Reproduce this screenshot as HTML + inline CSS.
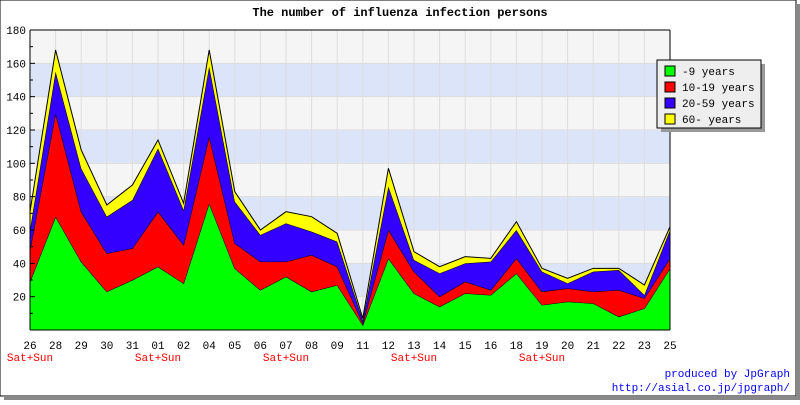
<!DOCTYPE html>
<html><head><meta charset="utf-8"><style>
body{margin:0;background:#fff;}
svg text{font-family:"Liberation Mono","DejaVu Sans Mono",monospace;}
</style></head><body>
<svg width="800" height="400" xmlns="http://www.w3.org/2000/svg">
<rect x="0" y="0" width="796" height="396" fill="#fff" stroke="#000" stroke-width="1"/>
<rect x="796" y="4" width="4" height="396" fill="#888"/>
<rect x="4" y="396" width="796" height="4" fill="#888"/>
<text x="400" y="16" text-anchor="middle" font-size="12" font-weight="bold">The number of influenza infection persons</text>
<g id="plot"></g>
<g id="legend">
<rect x="661" y="64" width="104" height="68" fill="#999"/>
<rect x="657" y="60" width="104" height="68" fill="#eee" stroke="#000"/>
</g>
<text x="790" y="377" text-anchor="end" font-size="11" fill="#00f">produced by JpGraph</text>
<text x="790" y="391" text-anchor="end" font-size="11" fill="#00f">http://asial.co.jp/jpgraph/</text>
</svg>
<script>
const categories=["26","28","29","30","31","01","02","04","05","06","07","08","09","11","12","13","14","15","16","18","19","20","21","22","23","25"];
const weekend=["26","01","07","13","19"];
const age0_9=[29,68,41,23,30,38,28,76,37,24,32,23,27,3,43,22,14,22,21,34,15,17,16,8,13,37];
const age10_19=[19,62,30,23,19,33,23,40,15,17,9,22,11,1,17,13,6,7,3,9,8,8,7,16,6,6];
const age20_59=[12,25,26,22,29,38,21,42,25,16,23,14,15,2,26,7,14,11,17,17,12,3,12,12,2,17];
const age60=[11,13,11,7,9,5,4,10,6,3,7,9,5,1,11,5,4,4,2,5,2,3,2,1,6,2];
const yTicks=[20,40,60,80,100,120,140,160,180];
const seriesNames=["-9 years","10-19 years","20-59 years","60- years"];
const seriesColors=["#00ff00","#ff0000","#3300ff","#ffff00"];
const X0=30,X1=670,Y0=330,Y1=30,YMAX=180;
const NS="http://www.w3.org/2000/svg";
const xs=i=>X0+(X1-X0)*i/(categories.length-1);
const ys=v=>Y0-(Y0-Y1)*v/YMAX;
const plot=document.getElementById('plot');
function mk(t,a,p){const e=document.createElementNS(NS,t);for(const k in a)e.setAttribute(k,a[k]);(p||plot).appendChild(e);return e;}
// bands
for(let v=0;v<YMAX;v+=20){
 const r=mk('rect',{x:X0,y:ys(v+20),width:X1-X0,height:ys(v)-ys(v+20),fill:(v/20)%2?'#dce4fa':'#f5f5f5'});
 
 
}
yTicks.forEach(v=>{const l=mk('line',{x1:X0,x2:X1,y1:ys(v),y2:ys(v),stroke:'#ddd'});
 
 });
categories.forEach((c,i)=>{const l=mk('line',{x1:xs(i),x2:xs(i),y1:Y1,y2:Y0,stroke:'#ddd'});
 
 });
// stacked areas
const series=[age0_9,age10_19,age20_59,age60];
let base=categories.map(()=>0);
series.forEach((s,k)=>{
 const top=base.map((b,i)=>b+s[i]);
 let d='M'+categories.map((c,i)=>xs(i)+','+ys(top[i])).join(' L');
 for(let i=categories.length-1;i>=0;i--)d+=' L'+xs(i)+','+ys(base[i]);
 d+='Z';
 const p=mk('path',{d:d,fill:seriesColors[k],stroke:'none'});
 
 
 const l=mk('polyline',{points:categories.map((c,i)=>xs(i)+','+ys(top[i])).join(' '),fill:'none',stroke:'#000','stroke-width':1});
 
 
 base=top;
});
// axes
mk('line',{x1:X0,x2:X0,y1:Y1,y2:Y0,stroke:'#000'});
mk('line',{x1:X0,x2:X1,y1:Y0,y2:Y0,stroke:'#000'});
mk('line',{x1:X1,x2:X1,y1:Y1,y2:Y0,stroke:'#000'});
mk('line',{x1:X0,x2:X1,y1:Y1,y2:Y1,stroke:'#000'});
for(let v=10;v<=YMAX;v+=10){mk('line',{x1:X0,x2:X0+(v%20?3:5),y1:ys(v),y2:ys(v),stroke:'#000'});}
yTicks.forEach(v=>{const t=mk('text',{x:26,y:ys(v)+4,'text-anchor':'end','font-size':11});t.textContent=v;
 
 });
categories.forEach((c,i)=>{const t=mk('text',{x:xs(i),y:349,'text-anchor':'middle','font-size':11});t.textContent=c;
 
 
 if(weekend.includes(c)){const w=mk('text',{x:xs(i),y:361,'text-anchor':'middle','font-size':11,fill:'#f00'});w.textContent='Sat+Sun';
 
 }
});
// legend
const lg=document.getElementById('legend');
seriesNames.forEach((n,k)=>{
 const y=66+k*16;
 const r=mk('rect',{x:665,y:y,width:10,height:10,fill:seriesColors[k],stroke:'#000'},lg);
 
 
 const t=mk('text',{x:682,y:y+9,'font-size':11},lg);t.textContent=n;
 
 
});
</script>
</body></html>
